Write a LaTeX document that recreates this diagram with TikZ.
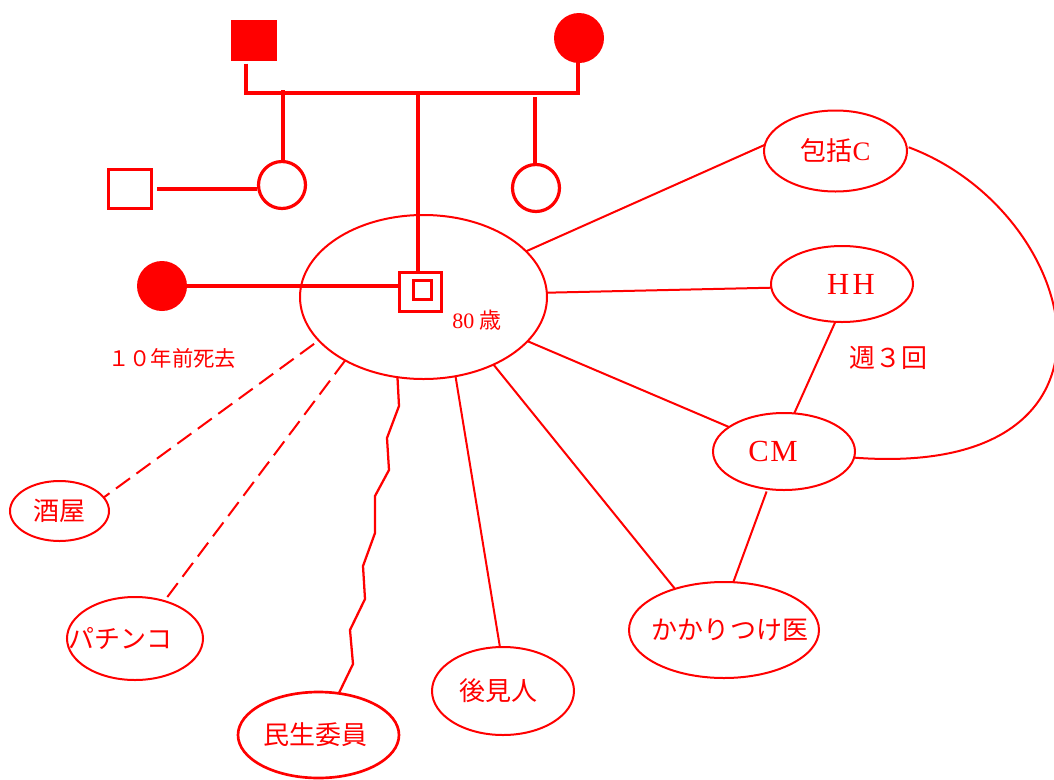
\documentclass[tikz,border=0pt]{standalone}
\usepackage{fontspec}
\setmainfont{Liberation Serif}
\newfontfamily\jp{Noto Sans CJK JP}
\usetikzlibrary{shapes.geometric}
\newcommand\ctext[2]{\makebox[0pt]{\kern#1\relax #2}}
\begin{document}
\begin{tikzpicture}[x=0.75pt,y=-0.75pt,
  fam/.style={draw=red,line width=2.5pt},
  conn/.style={draw=red,line width=1.5pt},
  dashconn/.style={conn,dash pattern=on 13pt off 6pt},
  ell/.style={ellipse,draw=red,line width=1.5pt,inner sep=0pt,outer sep=0pt,text=red,
    font=\fontsize{19.5pt}{21pt}\selectfont\jp},
  fsq/.style={rectangle,fill=red,inner sep=0pt,outer sep=0pt,minimum width=34.5pt,minimum height=30.75pt},
  fcirc/.style={circle,fill=red,inner sep=0pt,outer sep=0pt,minimum size=37.5pt},
  ocirc/.style={circle,draw=red,line width=2.4pt,inner sep=0pt,outer sep=1.2pt,minimum size=35.25pt},
  osq/.style={rectangle,draw=red,line width=2.4pt,inner sep=0pt,outer sep=1.2pt,minimum width=32.25pt,minimum height=29.25pt},
  lbl/.style={text=red,inner sep=0pt}]
\useasboundingbox (0,0) rectangle (1054,779);

% ---- genogram ----
\node[fsq] (fa) at (254,40.5) {};
\node[fcirc] (mo) at (579,38) {};
\node[ocirc] (d1) at (282,185) {};
\node[ocirc] (d2) at (536,188) {};
\node[osq] (hus) at (130,189) {};
\node[fcirc] (wife) at (162,286) {};

% central ellipse
\node[ell,minimum width=185.25pt,minimum height=123pt] (me) at (423.5,297) {};

% ego double square
\node[rectangle,draw=red,line width=2.7pt,inner sep=0pt,outer sep=1.35pt,fill=white,
  minimum width=31.5pt,minimum height=29pt] (ego) at (420.5,292) {};
\node[rectangle,draw=red,line width=2.3pt,inner sep=0pt,
  minimum width=13.5pt,minimum height=14pt] (egoin) at (422.5,290) {};

\coordinate (m1) at (246,93);
\coordinate (m2) at (578,93);
\coordinate (c1) at (283,90);
\coordinate (c2) at (418,93);
\coordinate (c3) at (535,97);

\draw[fam] ([yshift=-2pt]fa.south -| m1) -- (m1) -- (m2) -- ([yshift=1pt]mo.south -| m2);
\draw[fam] (c1) -- (d1.north -| c1);
\draw[fam] (c2) -- (ego.north -| c2);
\draw[fam] (c3) -- (d2.north -| c3);
\draw[fam] ([xshift=3pt]hus.east) -- (hus.east -| d1.west);
\draw[fam] (wife.east) -- (wife.east -| ego.west);

\node[lbl,font=\fontsize{16.5pt}{18pt}\selectfont] (age) at (477,320) {80 {\jp 歳}};
\node[lbl,font=\fontsize{16pt}{18pt}\selectfont\jp] (dead) at (172,358) {１０年前死去};

% ---- network ----
\node[ell,minimum width=107.25pt,minimum height=60.75pt] (hok) at (835.5,151) {\ctext{0pt}{包括{\rmfamily\fontsize{20pt}{22pt}\selectfont C}}};
\node[ell,minimum width=106.5pt,minimum height=57pt] (hh) at (842,284) {\ctext{13.5pt}{\rmfamily\fontsize{23pt}{24pt}\selectfont H\kern2.5pt H}};
\node[ell,minimum width=106.5pt,minimum height=57.75pt] (cm) at (784,451.5) {\ctext{-16.5pt}{\rmfamily\fontsize{23pt}{24pt}\selectfont C\kern1pt M}};
\node[ell,minimum width=142.5pt,minimum height=72pt] (doc) at (724,630) {\ctext{9pt}{かかりつけ医}};
\node[ell,minimum width=106.5pt,minimum height=66pt] (kou) at (503,691) {\ctext{-7.5pt}{後見人}};
\node[ell,line width=2pt,minimum width=120.75pt,minimum height=64.5pt] (min) at (318.5,735) {\ctext{-5pt}{民生委員}};
\node[ell,minimum width=74.25pt,minimum height=45pt] (sak) at (59.5,511) {\ctext{0pt}{酒屋}};
\node[ell,minimum width=102pt,minimum height=62.25pt] (pach) at (135,638.5) {\ctext{-22.5pt}{パチンコ}};

\node[lbl,font=\fontsize{19.5pt}{21pt}\selectfont\jp] (week) at (888,358) {週３回};

\draw[conn] (me.24.4) -- (hok.175);
\draw[conn] (me.2) -- (hh.183);
\draw[conn] (me.-23.5) -- (cm.156.8);
\draw[conn] (me.-44) -- (doc.140);
\draw[conn] (me.-68) -- (kou.94);
\draw[conn,line width=1.7pt] (me.-108.3) -- (399,406) -- (387,438) -- (389,470) -- (375,496)
  -- (375,533) -- (363,566) -- (365,599) -- (350,630) -- (353,664) -- (min.64.5);
\draw[dashconn] ([xshift=-4pt,yshift=-2pt]me.-157.6) -- (sak.17.5);
\draw[dashconn] (me.-141) -- (pach.52.4);
\draw[conn] (hh.-100) -- (cm.75);
\draw[conn] ([yshift=-2pt]cm.-115) -- (doc.79);
\draw[conn] ([xshift=1.5pt]hok.3) .. controls (1082,212) and (1150,480) .. (cm.-5);
\end{tikzpicture}
\end{document}
